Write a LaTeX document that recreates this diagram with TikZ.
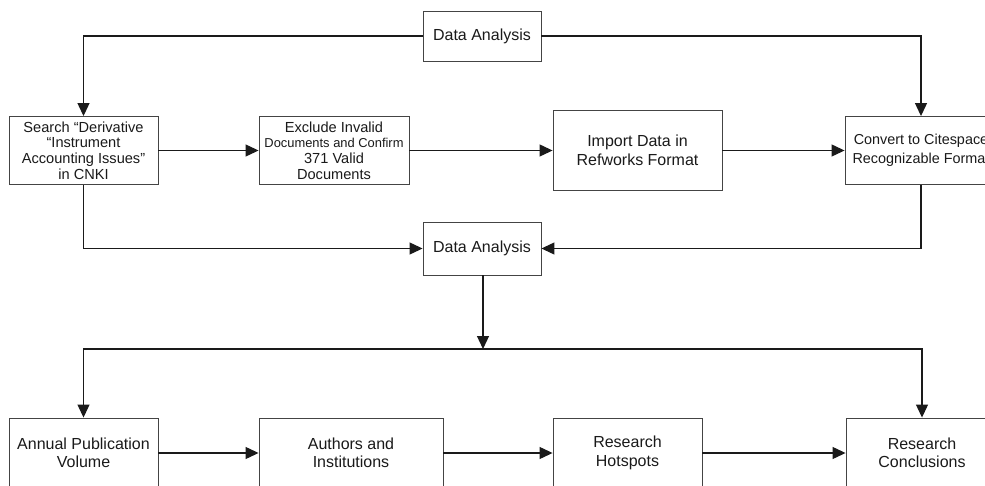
\documentclass[tikz,border=0pt]{standalone}
\usepackage{fontspec}
\setmainfont{Liberation Sans}
\usetikzlibrary{arrows.meta}
\definecolor{ink}{HTML}{1A1A1A}
\definecolor{edge}{HTML}{444444}
\begin{document}
\begin{tikzpicture}[x=1pt,y=-1pt,
  box/.style={draw=edge,line width=0.9pt,fill=white,align=center,inner sep=2pt,
    font=\fontsize{16}{18.5}\selectfont,text=ink},
  tight/.style={font=\fontsize{14.6}{15.6}\selectfont},
  mid/.style={font=\fontsize{14.4}{18.5}\selectfont},
  arr/.style={draw=ink,line width=1.2pt,-{Triangle[length=13pt,width=12pt]}},
  ln/.style={draw=ink,line width=1.2pt}]
\useasboundingbox (0,0) rectangle (985,486);
\fill[white] (0,0) rectangle (985,486);
% nodes
\node[box,minimum width=118pt,minimum height=50pt] (tda) at (482,36) {Data Analysis};
\node[box,tight,minimum width=149pt,minimum height=68pt] (search) at (83.5,150.5)
  {Search “Derivative\\“Instrument\\Accounting Issues”\\in CNKI};
\node[box,tight,minimum width=150pt,minimum height=68pt] (excl) at (334,150.5)
  {Exclude Invalid\\{\fontsize{12.9}{15}\selectfont Documents and Confirm}\\371 Valid\\Documents};
\node[box,minimum width=169pt,minimum height=80pt] (imp) at (637.5,150.5)
  {Import Data in\\Refworks Format};
\node[box,mid,minimum width=152pt,minimum height=68pt] (conv) at (921,150.5)
  {Convert to Citespace\\Recognizable Format};
\node[box,minimum width=118pt,minimum height=53pt] (mda) at (482,248.5) {Data Analysis};
\node[box,minimum width=149pt,minimum height=70pt] (annual) at (83.5,453)
  {Annual Publication\\Volume};
\node[box,minimum width=184pt,minimum height=70pt] (auth) at (351,453)
  {Authors and\\Institutions};
\node[box,minimum width=149pt,minimum height=70pt] (hot) at (627.5,453)
  {Research\\Hotspots};
\node[box,minimum width=152pt,minimum height=70pt] (concl) at (922,453)
  {Research\\Conclusions};
\coordinate (split) at (483,349);
% connectors
\draw[arr] (tda.west) -| (search.north);
\draw[arr] (tda.east) -| (conv.north);
\draw[arr] (search) -- (excl);
\draw[arr] (excl) -- (imp);
\draw[arr] (imp) -- (conv);
\draw[arr] (search.south) |- (mda.west);
\draw[arr] (conv.south) |- (mda.east);
\draw[arr] (mda.south -| split) -- (split);
\draw[arr] (split) -| (annual.north);
\draw[arr] (split) -| (concl.north);
\draw[arr] (annual) -- (auth);
\draw[arr] (auth) -- (hot);
\draw[arr] (hot) -- (concl);
\end{tikzpicture}
\end{document}
